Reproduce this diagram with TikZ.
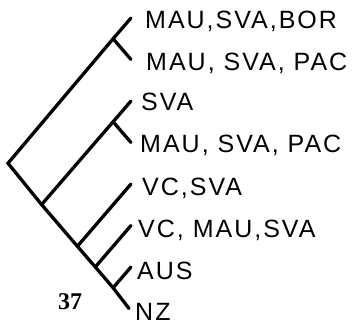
\documentclass[tikz,border=0pt]{standalone}
\usepackage{fontspec}
\setmainfont{Liberation Sans}
\newfontfamily\taxfont{Liberation Sans}[LetterSpace=8]
\newfontfamily\numfont{Liberation Serif}
\usetikzlibrary{positioning}

\begin{document}
\begin{tikzpicture}[
  x=1pt, y=-1pt,
  branch/.style={line width=3.3pt, line cap=round, line join=miter},
  taxon/.style={inner sep=0pt, text height=18pt, text depth=0pt, font=\fontsize{25}{30}\taxfont},
  figno/.style={inner sep=0pt, font=\fontsize{24}{28}\numfont\bfseries}
]
\useasboundingbox (0,0) rectangle (354,329);

% Tips and junctions
\coordinate (root) at (8,163.25);
\coordinate (t1) at (131,18);
\coordinate (t2) at (131,59.5);
\coordinate (t3) at (131,101);
\coordinate (t4) at (131,142.5);
\coordinate (t5) at (131,184);
\coordinate (t6) at (131,225.5);
\coordinate (t7) at (131,267);
\coordinate (t8) at (129,308.5);
\coordinate (j12) at (113.1,38.75);
\coordinate (j34) at (113.1,121.75);
\coordinate (ja) at (41.6,204.6);
\coordinate (j5) at (77.4,246.3);
\coordinate (j6) at (95.3,267);
\coordinate (j7) at (113.1,287.8);

% Taxa
\node[taxon, right=14pt of t1, yshift=-2pt] (bor) {MAU,SVA,BOR};
\node[taxon, right=15pt of t2, yshift=-2pt] (pac) {MAU, SVA, PAC};
\node[taxon, right=10pt of t3, yshift=-1pt] (sva) {SVA};
\node[taxon, right=9pt of t4, yshift=-1pt] (pacb) {MAU, SVA, PAC};
\node[taxon, right=11pt of t5, yshift=-3pt] (vc) {VC,SVA};
\node[taxon, right=7pt of t6, yshift=-3pt] (vcm) {VC, MAU,SVA};
\node[taxon, right=6pt of t7, yshift=-3pt] (aus) {AUS};
\node[taxon, right=6pt of t8, yshift=-3pt] (nz) {NZ};

\node[figno] (num) at (70,302) {37};

% Branches
\draw[branch] (t1) -- (j12) -- (root) -- (ja) -- (j5) -- (j6) -- (j7) -- (t8);
\draw[branch] (j12) -- (t2);
\draw[branch] (ja) -- (j34) -- (t3);
\draw[branch] (j34) -- (t4);
\draw[branch] (j5) -- (t5);
\draw[branch] (j6) -- (t6);
\draw[branch] (j7) -- (t7);
\end{tikzpicture}
\end{document}
